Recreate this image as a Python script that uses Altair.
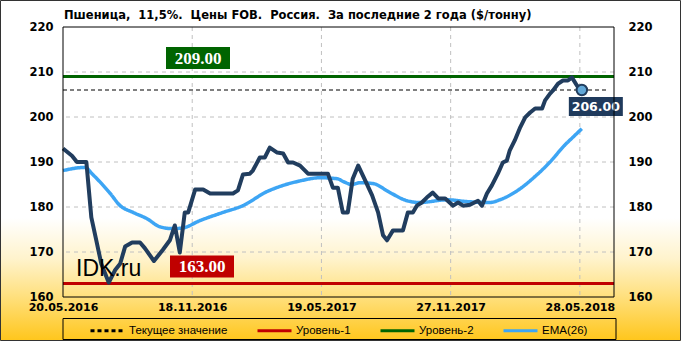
import altair as alt
import pandas as pd

# ---------------- data ----------------
price_week = [0, 1.8, 2.8, 4.7, 5.7, 6.7, 7.7, 9.2, 10.5, 11.5, 12.5, 13.9, 15.5, 16.5, 18.3,
              20.1, 21.5, 22.5, 23.5, 24.5, 25.2, 26.6, 28.2, 29.6, 34.2, 35.2, 36.2, 37.6,
              38.2, 39.6, 40.6, 41.6, 43.1, 44.3, 45.3, 46.3, 47.7, 49.3, 53.3, 54.3, 55.3,
              56.3, 57.3, 58.3, 59.4, 60.8, 62.2, 63.4, 64.4, 65.2, 66.4, 68.4, 69.4, 70.4,
              71.2, 72.2, 73.2, 74.4, 75.5, 76.9, 78.5, 79.5, 80.5, 81.9, 83.5, 84.3, 85.3,
              86.3, 87.5, 88.5, 89.3, 89.9, 90.9, 92.0, 93.0, 94.0, 95.0, 96.4, 97.0, 98.0,
              98.6, 99.6, 100.6, 101.6, 102.4, 103.4, 104.4]
price_val = [193.0, 191.4, 190.0, 190.0, 177.7, 172.6, 167.4, 163.2, 166.0, 167.4, 171.2, 172.1,
             172.1, 170.8, 168.0, 170.5, 172.6, 175.9, 169.9, 178.8, 178.8, 183.9, 183.9, 183.0,
             183.0, 183.7, 187.2, 187.4, 188.1, 191.0, 191.0, 193.2, 192.1, 191.9, 189.9, 189.9,
             189.2, 187.4, 187.4, 184.3, 184.3, 178.8, 178.8, 186.3, 189.2, 185.9, 182.6, 178.8,
             173.7, 172.6, 174.8, 174.8, 178.8, 178.8, 180.3, 181.0, 182.1, 183.2, 181.9, 181.9,
             180.3, 181.0, 180.3, 180.5, 181.4, 180.3, 183.0, 184.8, 187.4, 189.9, 190.3, 192.6,
             194.8, 197.7, 199.9, 201.0, 201.9, 201.9, 203.7, 205.2, 205.9, 207.4, 208.1, 208.1,
             208.8, 207.0, 206.0]

ema_week = [0, 4.4, 6.0, 9.5, 11.5, 14.1, 16.9, 19.5, 21.9, 23.9, 27.6, 32.2, 36.2, 41.0,
            44.3, 47.7, 51.7, 55.1, 56.7, 58.1, 59.8, 62.4, 65.8, 69.2, 71.8, 77.3, 81.3,
            85.9, 87.9, 91.9, 95.0, 98.0, 101.0, 102.6, 104.4]
ema_val = [188.1, 188.8, 187.2, 183.0, 180.3, 178.8, 177.4, 175.6, 175.2, 175.3, 177.0, 178.8,
           180.3, 183.4, 184.8, 185.8, 186.5, 186.3, 185.5, 185.0, 185.4, 185.2, 183.2, 181.4,
           181.0, 181.6, 181.2, 181.0, 181.6, 184.0, 186.8, 190.0, 193.8, 195.5, 197.4]

level_names = ["Уровень-1", "Уровень-2"]
level_values = [163, 209]
current_value = 206

y_ticks = [160, 170, 180, 190, 200, 210, 220]
x_tick_weeks = [0, 26, 52, 78, 104]
x_tick_labels = ["20.05.2016", "18.11.2016", "19.05.2017", "27.11.2017", "28.05.2018"]

legend_names = ["Текущее значение", "Уровень-1", "Уровень-2", "EMA(26)"]
legend_colors = ["#000000", "#C00000", "#006400", "#3DA5F4"]

# sentences separated by a double space, as in the reference
title_parts = ["Пшеница,", "11,5%.", "Цены FOB.", "Россия.", "За последние 2 года ($/тонну)"]
title_text = "\u00a0 ".join(title_parts)

# ---------------- layout / style ----------------
W, H = 551, 270
PAD_L, PAD_T, PAD_R, PAD_B = 63, 27, 67, 44
XMAX = 110.87
FONT = "DejaVu Sans"
NAVY = "#213D5E"

price_df = pd.DataFrame({"w": price_week, "v": price_val})
ema_df = pd.DataFrame({"w": ema_week, "v": ema_val, "s": "EMA(26)"})
level_df = pd.DataFrame({"s": level_names, "v": level_values,
                         "t": [f"{v:.2f}" for v in level_values]})
cur_df = pd.DataFrame({"s": ["Текущее значение"], "v": [current_value]})
last_df = pd.DataFrame({"w": [price_week[-1]], "v": [price_val[-1]],
                        "t": [f"{price_val[-1]:.2f}"]})
ygrid_df = pd.DataFrame({"v": y_ticks[1:-1]})
xgrid_df = pd.DataFrame({"w": x_tick_weeks[1:]})
one_df = pd.DataFrame({"a": [0]})
title_df = pd.DataFrame({"t": [title_text]})

label_expr = "".join(
    f"datum.value == {w} ? '{l}' : " for w, l in zip(x_tick_weeks, x_tick_labels)
) + "''"

xscale = alt.Scale(domain=[0, XMAX], nice=False, zero=False)
yscale = alt.Scale(domain=[160, 220], nice=False, zero=False)

xaxis = alt.Axis(values=x_tick_weeks, labelExpr=label_expr, grid=False, domain=False,
                 ticks=False, title=None, labelFont=FONT, labelFontSize=11,
                 labelFontWeight="bold", labelColor="black", labelPadding=4,
                 labelFlush=False, labelOverlap=False, zindex=1)
xenc = alt.X("w:Q", scale=xscale, axis=xaxis)


def yaxis(orient, pad):
    return alt.Axis(orient=orient, values=y_ticks, grid=False, domain=False, ticks=False,
                    title=None, labelFont=FONT, labelFontSize=11.5, labelFontWeight="bold",
                    labelColor="black", labelPadding=pad, format="d", zindex=1,
                    labelFlush=False)


ynone = alt.Y("v:Q", scale=yscale, axis=None)

leg = alt.Legend(title=None, orient="none", legendX=26, legendY=285, direction="horizontal",
                 columns=4, symbolType="stroke", symbolSize=1156, symbolStrokeWidth=3,
                 labelFont="Liberation Sans", labelFontSize=11.5, labelColor="black",
                 columnPadding=23, labelOffset=3, padding=0)
colorenc = alt.Color("s:N", scale=alt.Scale(domain=legend_names, range=legend_colors), legend=leg)
dashenc = alt.StrokeDash("s:N", scale=alt.Scale(domain=legend_names,
                                                range=[[4, 3], [1, 0], [1, 0], [1, 0]]), legend=leg)

# background gradient over the whole picture
bg = alt.Chart(one_df).mark_rect(
    fill=alt.Gradient(gradient="linear", x1=0, x2=0, y1=0, y2=1, stops=[
        alt.GradientStop(offset=0, color="#FFFFFF"),
        alt.GradientStop(offset=0.64, color="#FFFFFF"),
        alt.GradientStop(offset=0.76, color="#FFF3CC"),
        alt.GradientStop(offset=0.87, color="#FFE07E"),
        alt.GradientStop(offset=1, color="#FFC61C"),
    ]),
    stroke="#333333", strokeWidth=1,
).encode(x=alt.value(-PAD_L + 0.5), x2=alt.value(W + PAD_R - 0.5),
         y=alt.value(-PAD_T + 0.5), y2=alt.value(H + PAD_B - 0.5))

title_mark = alt.Chart(title_df).mark_text(font=FONT, fontSize=11.5, fontWeight="bold",
                                           color="black", align="left", baseline="alphabetic").encode(
    x=alt.value(1), y=alt.value(-8), text="t:N")

ygrid = alt.Chart(ygrid_df).mark_rule(color="#C0C0C0", strokeDash=[4, 4], strokeWidth=1).encode(y=ynone)
xgrid = alt.Chart(xgrid_df).mark_rule(color="#C0C0C0", strokeDash=[4, 4], strokeWidth=1).encode(x=xenc)

levels = alt.Chart(level_df).mark_rule(strokeWidth=3).encode(y=ynone, color=colorenc, strokeDash=dashenc)
current = alt.Chart(cur_df).mark_rule(strokeWidth=1.2).encode(
    y=ynone, x=alt.value(0), x2=alt.value(546), color=colorenc, strokeDash=dashenc)

ema = alt.Chart(ema_df).mark_line(strokeWidth=3.5, interpolate="monotone").encode(
    x=xenc, y=ynone, color=colorenc, strokeDash=dashenc)

price = alt.Chart(price_df).mark_line(strokeWidth=4, color=NAVY, strokeJoin="round").encode(
    x=xenc, y=alt.Y("v:Q", scale=yscale, axis=yaxis("left", 10)))

right_axis = alt.Chart(price_df).mark_point(opacity=0).encode(
    x=xenc, y=alt.Y("v:Q", scale=yscale, axis=yaxis("right", 14)))

last_pt = alt.Chart(last_df).mark_point(filled=True, fill="#62A8D8", stroke=NAVY, strokeWidth=2,
                                        size=110, opacity=1).encode(x=xenc, y=ynone)

box_path = "M-1,-0.34H1V0.34H-1Z"
lvl1 = level_df[level_df["s"] == "Уровень-1"]
lvl2 = level_df[level_df["s"] == "Уровень-2"]

lbl2_box = alt.Chart(lvl2).mark_point(shape=box_path, size=64 * 64, filled=True, color="#006400",
                                      opacity=1, yOffset=-18.5).encode(x=alt.value(135), y=ynone)
lbl2_txt = alt.Chart(lvl2).mark_text(font="Liberation Serif", fontWeight="bold", fontSize=17,
                                     color="white", yOffset=-18, baseline="middle").encode(
    x=alt.value(135), y=ynone, text="t:N")
lbl1_box = alt.Chart(lvl1).mark_point(shape=box_path, size=64 * 64, filled=True, color="#C00000",
                                      opacity=1, yOffset=-17).encode(x=alt.value(139), y=ynone)
lbl1_txt = alt.Chart(lvl1).mark_text(font="Liberation Serif", fontWeight="bold", fontSize=17,
                                     color="white", yOffset=-16.5, baseline="middle").encode(
    x=alt.value(139), y=ynone, text="t:N")

cur_box = alt.Chart(last_df).mark_point(shape="M-1,-0.352H1V0.352H-1Z", size=54 * 54, filled=True,
                                        color="#1F3A5C", opacity=1, xOffset=14, yOffset=16.5).encode(
    x=xenc, y=ynone)
cur_txt = alt.Chart(last_df).mark_text(font=FONT, fontWeight="bold", fontSize=12.5, color="white",
                                       xOffset=14, yOffset=17, baseline="middle").encode(
    x=xenc, y=ynone, text="t:N")

idk = alt.Chart(one_df).mark_text(text="IDK.ru", font="Liberation Sans", fontSize=23, color="black",
                                  align="left", baseline="middle").encode(
    x=alt.value(13), y=alt.value(241.5))

frame = alt.Chart(one_df).mark_rect(fill="transparent", stroke="black", strokeWidth=1).encode(
    x=alt.value(0), x2=alt.value(W), y=alt.value(0), y2=alt.value(H))

legend_box = alt.Chart(one_df).mark_rect(fill="transparent", stroke="black", strokeWidth=1).encode(
    x=alt.value(0), x2=alt.value(553), y=alt.value(291.5), y2=alt.value(312.5))

chart = alt.layer(
    bg, title_mark, ygrid, xgrid, levels, current, ema, price, right_axis, last_pt,
    lbl2_box, lbl2_txt, lbl1_box, lbl1_txt, cur_box, cur_txt, idk, frame, legend_box,
).resolve_axis(y="independent").properties(
    width=W, height=H,
    autosize=alt.AutoSizeParams(type="none"),
    padding={"left": PAD_L, "top": PAD_T, "right": PAD_R, "bottom": PAD_B},
).configure_view(stroke=None).configure(background="white")

chart.save("out.html", embed_options={"renderer": "svg", "actions": False})
